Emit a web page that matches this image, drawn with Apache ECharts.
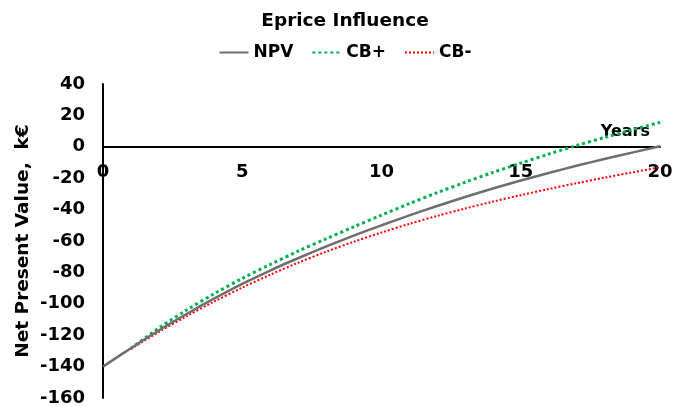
<!DOCTYPE html>
<html>
<head>
<meta charset="utf-8">
<title>Eprice Influence</title>
<script src="https://cdn.jsdelivr.net/npm/echarts@6/dist/echarts.min.js"></script>
<style>
  html, body { margin: 0; padding: 0; background: #fff; }
  #chart { width: 690px; height: 407px; }
</style>
</head>
<body>
<div id="chart"></div>
<script>
// values (k€ per year)
const years = [0, 1, 2, 3, 4, 5, 6, 7, 8, 9, 10, 11, 12, 13, 14, 15, 16, 17, 18, 19, 20];
const npv = [-140, -128.3, -117.0, -106.5, -96.6, -87.3, -78.8, -71.0, -63.6, -56.6, -50.0,
  -43.7, -37.7, -32.0, -26.6, -21.5, -16.7, -12.1, -7.8, -3.7, 0.3];
const cbPlus = [null, -128.5, -115.5, -104.0, -93.5, -83.8, -75.0, -66.5, -58.7, -51.0, -43.5,
  -36.2, -29.2, -22.6, -16.3, -10.4, -4.7, 0.8, 5.9, 10.8, 15.6];
const cbMinus = [null, -128.8, -118.0, -107.9, -98.5, -89.7, -81.5, -73.9, -66.9, -60.5, -54.6,
  -49.1, -44.0, -39.3, -34.9, -30.8, -26.9, -23.2, -19.7, -16.3, -13.0];

const FONT = 'DejaVu Sans';
const Y_MIN = -160;
const Y_MAX = 40;
const GRID_TOP = 84;
const GRID_BOTTOM = 9;
const CHART_H = 407;

function pairs(values) {
  return years.map((x, i) => [x, values[i]]).filter((p) => p[1] !== null);
}

// x axis sits on the zero line, labels hang just under it
const plotH = CHART_H - GRID_TOP - GRID_BOTTOM;
const zeroOffset = -plotH * (0 - Y_MIN) / (Y_MAX - Y_MIN);

const chart = echarts.init(document.getElementById('chart'), null, { renderer: 'canvas' });
chart.setOption({
  animation: false,
  backgroundColor: '#fff',
  textStyle: { fontFamily: FONT },
  title: {
    text: 'Eprice Influence',
    left: 'center',
    top: 7,
    textStyle: { fontFamily: FONT, fontSize: 18.5, fontWeight: 'bold', color: '#000' },
  },
  legend: {
    top: 39,
    left: 'center',
    itemWidth: 29,
    itemHeight: 14,
    itemGap: 18,
    itemStyle: { opacity: 0 },
    textStyle: { fontFamily: FONT, fontSize: 17, fontWeight: 'bold', color: '#000' },
    data: ['NPV', 'CB+', 'CB-'],
  },
  grid: {
    left: 103,
    right: 30,
    top: GRID_TOP,
    bottom: GRID_BOTTOM,
    outerBoundsMode: 'none',
    containLabel: false,
  },
  xAxis: {
    type: 'value',
    min: 0,
    max: 20,
    interval: 5,
    offset: zeroOffset,
    name: 'Years',
    nameLocation: 'end',
    nameGap: -10,
    nameTextStyle: {
      fontFamily: FONT,
      fontSize: 16,
      fontWeight: 'bold',
      color: '#000',
      align: 'right',
      verticalAlign: 'bottom',
      padding: [0, 0, 7, 0],
    },
    axisLine: { show: true, onZero: false, lineStyle: { color: '#000', width: 2 } },
    axisTick: { show: false },
    splitLine: { show: false },
    axisLabel: {
      margin: 17,
      fontFamily: FONT,
      fontSize: 18,
      fontWeight: 'bold',
      color: '#000',
    },
  },
  yAxis: {
    type: 'value',
    min: Y_MIN,
    max: Y_MAX,
    interval: 20,
    name: 'Net Present Value,  k€',
    nameLocation: 'middle',
    nameGap: 70,
    nameMoveOverlap: false,
    nameTextStyle: { fontFamily: FONT, fontSize: 18.5, fontWeight: 'bold', color: '#000' },
    axisLine: { show: true, lineStyle: { color: '#000', width: 2 } },
    axisTick: { show: false },
    splitLine: { show: false },
    axisLabel: {
      margin: 18,
      fontFamily: FONT,
      fontSize: 18,
      fontWeight: 'bold',
      color: '#000',
    },
  },
  series: [
    {
      name: 'NPV',
      type: 'line',
      data: pairs(npv),
      smooth: 0.3,
      symbol: 'none',
      lineStyle: { color: '#6e6e6e', width: 2.5 },
      itemStyle: { color: '#6e6e6e' },
      z: 3,
    },
    {
      name: 'CB+',
      type: 'line',
      data: pairs(cbPlus),
      smooth: 0.3,
      symbol: 'none',
      lineStyle: { color: '#00b050', width: 3, type: [3, 3] },
      itemStyle: { color: '#00b050' },
      z: 2,
    },
    {
      name: 'CB-',
      type: 'line',
      data: pairs(cbMinus),
      smooth: 0.3,
      symbol: 'none',
      lineStyle: { color: '#ff0000', width: 2, type: [2, 2] },
      itemStyle: { color: '#ff0000' },
      z: 2,
    },
  ],
});
</script>
</body>
</html>
